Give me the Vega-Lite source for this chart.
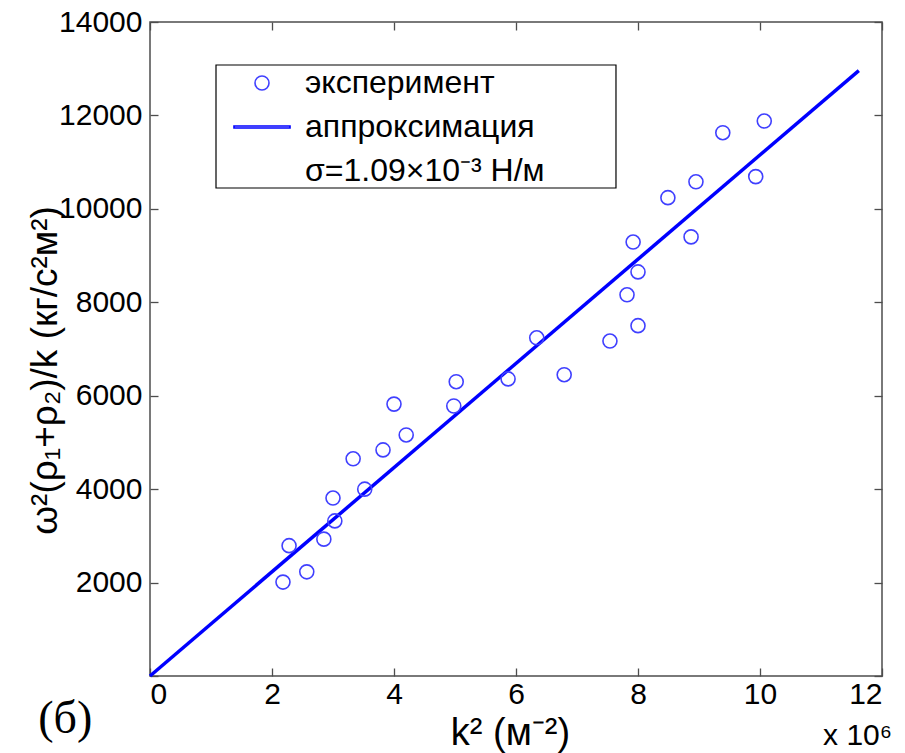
{
  "$schema": "https://vega.github.io/schema/vega-lite/v6.json",
  "width": 732,
  "height": 654,
  "autosize": {"type": "none"},
  "padding": {"left": 150, "top": 22, "right": 23, "bottom": 77},
  "background": "white",
  "config": {
    "view": {"stroke": "#4d4d4d", "strokeWidth": 1.5},
    "font": "Liberation Sans",
    "axis": {
      "domain": false,
      "grid": false,
      "tickColor": "#4d4d4d",
      "tickWidth": 1.3,
      "tickSize": -8,
      "labelFont": "Liberation Sans",
      "labelFontSize": 30,
      "labelColor": "black",
      "titleFont": "Liberation Sans",
      "titleFontWeight": "normal",
      "titleColor": "black"
    }
  },
  "datasets": {
    "pts": [
      {"k2": 2.18, "v": 2010, "series": "эксперимент"},
      {"k2": 2.28, "v": 2790, "series": "эксперимент"},
      {"k2": 2.57, "v": 2230, "series": "эксперимент"},
      {"k2": 2.85, "v": 2930, "series": "эксперимент"},
      {"k2": 3.03, "v": 3320, "series": "эксперимент"},
      {"k2": 3.0, "v": 3810, "series": "эксперимент"},
      {"k2": 3.52, "v": 4000, "series": "эксперимент"},
      {"k2": 3.33, "v": 4650, "series": "эксперимент"},
      {"k2": 3.82, "v": 4840, "series": "эксперимент"},
      {"k2": 4.2, "v": 5160, "series": "эксперимент"},
      {"k2": 4.0, "v": 5820, "series": "эксперимент"},
      {"k2": 4.98, "v": 5780, "series": "эксперимент"},
      {"k2": 5.02, "v": 6300, "series": "эксперимент"},
      {"k2": 5.87, "v": 6360, "series": "эксперимент"},
      {"k2": 6.79, "v": 6450, "series": "эксперимент"},
      {"k2": 6.34, "v": 7240, "series": "эксперимент"},
      {"k2": 7.54, "v": 7170, "series": "эксперимент"},
      {"k2": 8.0, "v": 7500, "series": "эксперимент"},
      {"k2": 7.82, "v": 8160, "series": "эксперимент"},
      {"k2": 8.0, "v": 8650, "series": "эксперимент"},
      {"k2": 7.92, "v": 9290, "series": "эксперимент"},
      {"k2": 8.87, "v": 9400, "series": "эксперимент"},
      {"k2": 8.49, "v": 10240, "series": "эксперимент"},
      {"k2": 8.95, "v": 10580, "series": "эксперимент"},
      {"k2": 9.93, "v": 10690, "series": "эксперимент"},
      {"k2": 9.39, "v": 11630, "series": "эксперимент"},
      {"k2": 10.07, "v": 11880, "series": "эксперимент"}
    ],
    "fit": [
      {"k2": 0, "v": 0},
      {"k2": 11.62, "v": 12960}
    ]
  },
  "layer": [
    {
      "data": {"name": "fit"},
      "mark": {"type": "line", "color": "#0000ff", "strokeWidth": 3.5},
      "encoding": {
        "x": {"field": "k2", "type": "quantitative", "scale": {"domain": [0, 12], "nice": false},
          "axis": {"orient": "top", "values": [0, 2, 4, 6, 8, 10, 12], "labels": false, "title": null}},
        "y": {"field": "v", "type": "quantitative", "scale": {"domain": [0, 14000], "nice": false},
          "axis": {"orient": "right", "values": [0, 2000, 4000, 6000, 8000, 10000, 12000, 14000], "labels": false, "title": null}}
      }
    },
    {
      "data": {"values": [{}]},
      "mark": {"type": "rect", "fill": "white", "fillOpacity": 0, "stroke": "black", "strokeWidth": 1.2},
      "encoding": {
        "x": {"datum": 1.082, "type": "quantitative", "axis": null},
        "x2": {"datum": 7.639},
        "y": {"datum": 13079, "type": "quantitative", "axis": null},
        "y2": {"datum": 10447}
      }
    },
    {
      "data": {"name": "pts"},
      "mark": {"type": "point", "filled": false, "size": 196, "strokeWidth": 1.6, "opacity": 1},
      "encoding": {
        "x": {"field": "k2", "type": "quantitative",
          "axis": {"orient": "bottom", "values": [0, 2, 4, 6, 8, 10, 12], "format": "d", "labelPadding": 11,
            "title": "k² (м⁻²)", "titleFontSize": 38, "titleX": 360, "titleY": 68, "titleBaseline": "alphabetic"}},
        "y": {"field": "v", "type": "quantitative",
          "axis": {"orient": "left", "values": [0, 2000, 4000, 6000, 8000, 10000, 12000, 14000], "format": "d", "labelPadding": 16,
            "labelExpr": "datum.value == 0 ? '' : datum.label",
            "title": "ω²(ρ₁+ρ₂)/k (кг/с²м²)", "titleFontSize": 37, "titleX": -105, "titleY": 348, "titleAngle": -90, "titleBaseline": "middle", "titleAlign": "center"}},
        "color": {"field": "series", "type": "nominal",
          "scale": {"domain": ["эксперимент", "аппроксимация", "σ=1.09×10⁻³ Н/м"], "range": ["#4040ff", "#0000ff", "rgba(0,0,0,0)"]},
          "legend": {
            "title": null, "orient": "none", "legendX": 66, "legendY": 43,
            "padding": 2, "strokeColor": null,
            "labelFont": "Liberation Sans", "labelFontSize": 32, "labelColor": "black", "labelLimit": 500,
            "symbolSize": 196, "symbolStrokeWidth": 1.6, "symbolOffset": 28, "labelOffset": 27, "rowPadding": 12
          }},
        "shape": {"field": "series", "type": "nominal",
          "scale": {"domain": ["эксперимент", "аппроксимация", "σ=1.09×10⁻³ Н/м"], "range": ["circle", "M-4,-0.15L4,-0.15L4,0.15L-4,0.15Z", "circle"]}}
      }
    },
    {
      "data": {"values": [{}]},
      "mark": {"type": "text", "font": "Liberation Serif", "fontSize": 46, "align": "center", "baseline": "alphabetic", "color": "black"},
      "encoding": {
        "x": {"datum": -1.39, "type": "quantitative", "axis": null},
        "y": {"datum": -1220, "type": "quantitative", "axis": null},
        "text": {"value": "(б)"}
      }
    },
    {
      "data": {"values": [{}]},
      "mark": {"type": "text", "font": "Liberation Sans", "fontSize": 30, "align": "center", "baseline": "alphabetic", "color": "black"},
      "encoding": {
        "x": {"datum": 11.6, "type": "quantitative", "axis": null},
        "y": {"datum": -1477, "type": "quantitative", "axis": null},
        "text": {"value": "x 10⁶"}
      }
    }
  ],
  "resolve": {"axis": {"x": "independent", "y": "independent"}}
}
